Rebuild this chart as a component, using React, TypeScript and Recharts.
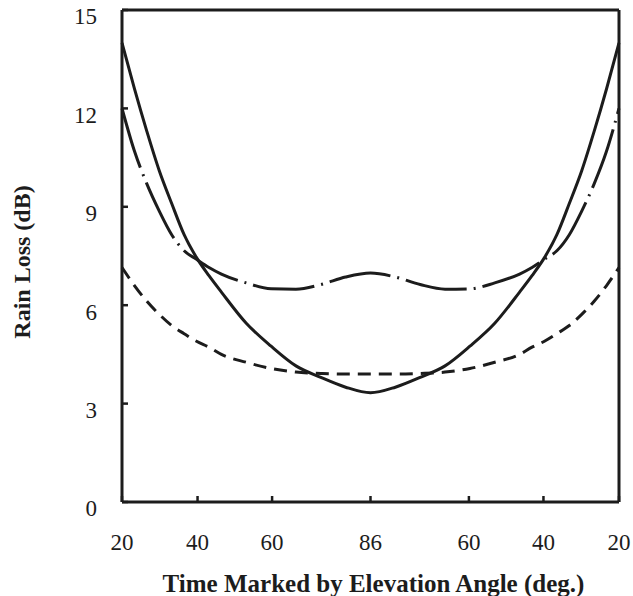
import { LineChart, Line, XAxis, YAxis } from "recharts";

// time along the pass, 0..100, marked by elevation angle
const timePoints = [
  0, 2.5, 5, 7.5, 10, 12.5, 15, 17.5, 20, 25, 30, 35, 40, 45, 50,
  55, 60, 65, 70, 75, 80, 82.5, 85, 87.5, 90, 92.5, 95, 97.5, 100,
];

const solidLoss = [
  14.0, 12.6, 11.3, 10.1, 9.1, 8.15, 7.45, 6.9, 6.4, 5.45, 4.75, 4.15, 3.8, 3.5, 3.33,
  3.5, 3.8, 4.15, 4.75, 5.45, 6.4, 6.9, 7.45, 8.15, 9.1, 10.1, 11.3, 12.6, 14.0,
];

const dashDotLoss = [
  12.0, 10.7, 9.7, 8.87, 8.15, 7.66, 7.4, 7.15, 6.95, 6.68, 6.5, 6.49, 6.63, 6.86, 6.98,
  6.86, 6.63, 6.49, 6.5, 6.68, 6.95, 7.15, 7.4, 7.66, 8.15, 8.87, 9.7, 10.7, 12.0,
];

const dashedLoss = [
  7.15, 6.6, 6.12, 5.72, 5.38, 5.13, 4.9, 4.72, 4.5, 4.26, 4.07, 3.96, 3.92, 3.9, 3.9,
  3.9, 3.92, 3.96, 4.07, 4.26, 4.5, 4.72, 4.9, 5.13, 5.38, 5.72, 6.12, 6.6, 7.15,
];

const xTickPositions = [0, 15.2, 30.2, 50, 69.8, 84.8, 100];
const xTickLabels = ["20", "40", "60", "86", "60", "40", "20"];
const yTicks = [0, 3, 6, 9, 12, 15];

const data = timePoints.map((t, i) => ({
  t,
  solid: solidLoss[i],
  dashDot: dashDotLoss[i],
  dashed: dashedLoss[i],
}));

const INK = "#1c1c1c";
const FONT = "'Liberation Serif', 'Times New Roman', serif";

const XTick = ({ x, y, payload }: any) => {
  const idx = xTickPositions.indexOf(payload.value);
  return (
    <text x={x} y={y} dy="0.34em" textAnchor="middle" fontFamily={FONT} fontSize={23} fill={INK}>
      {idx >= 0 ? xTickLabels[idx] : ""}
    </text>
  );
};

const YTick = ({ x, y, payload }: any) => (
  <text x={x} y={y + 6.5} dy="0.34em" textAnchor="end" fontFamily={FONT} fontSize={23} fill={INK}>
    {payload.value}
  </text>
);

const XTitle = ({ viewBox }: any) => (
  <text
    x={viewBox.x + viewBox.width / 2 + 3}
    y={viewBox.y + 81}
    dy="0.34em"
    textAnchor="middle"
    fontFamily={FONT}
    fontWeight="bold"
    fontSize={25}
    fill={INK}
  >
    Time Marked by Elevation Angle (deg.)
  </text>
);

const YTitle = ({ viewBox }: any) => {
  const cx = 22;
  const cy = viewBox.y + viewBox.height / 2 + 6;
  return (
    <text
      x={cx}
      y={cy}
      dy="0.34em"
      textAnchor="middle"
      transform={`rotate(-90 ${cx} ${cy})`}
      fontFamily={FONT}
      fontWeight="bold"
      fontSize={24}
      fill={INK}
    >
      Rain Loss (dB)
    </text>
  );
};

export default function App() {
  const axisLine = { stroke: INK, strokeWidth: 3 };
  const tickLine = { stroke: INK, strokeWidth: 2.5 };
  return (
    <div style={{ position: "absolute", left: 0, top: 0, width: 633, height: 596, background: "#fff" }}>
      <LineChart width={633} height={596} data={data} margin={{ top: 9, right: 13, bottom: 0, left: 0 }}>
        <XAxis
          dataKey="t"
          type="number"
          domain={[0, 100]}
          ticks={xTickPositions}
          interval={0}
          height={94}
          axisLine={axisLine}
          tickLine={tickLine}
          tickSize={-6}
          tickMargin={46}
          tick={<XTick />}
          label={{ content: <XTitle /> }}
        />
        <XAxis
          xAxisId="top"
          orientation="top"
          dataKey="t"
          type="number"
          domain={[0, 100]}
          ticks={xTickPositions}
          interval={0}
          height={1}
          axisLine={axisLine}
          tickLine={tickLine}
          tickSize={-6}
          tick={false}
        />
        <YAxis
          type="number"
          domain={[0, 15]}
          ticks={yTicks}
          interval={0}
          width={122}
          axisLine={axisLine}
          tickLine={tickLine}
          tickSize={-6}
          tickMargin={31}
          tick={<YTick />}
          label={{ content: <YTitle /> }}
        />
        <YAxis
          yAxisId="right"
          orientation="right"
          type="number"
          domain={[0, 15]}
          ticks={yTicks}
          interval={0}
          width={1}
          axisLine={axisLine}
          tickLine={tickLine}
          tickSize={-6}
          tick={false}
        />
        <Line
          type="monotone"
          dataKey="dashed"
          stroke={INK}
          strokeWidth={3}
          strokeDasharray="13 8"
          dot={false}
          activeDot={false}
          isAnimationActive={false}
        />
        <Line
          type="monotone"
          dataKey="dashDot"
          stroke={INK}
          strokeWidth={3}
          strokeDasharray="62 7 2 7"
          dot={false}
          activeDot={false}
          isAnimationActive={false}
        />
        <Line
          type="monotone"
          dataKey="solid"
          stroke={INK}
          strokeWidth={3}
          dot={false}
          activeDot={false}
          isAnimationActive={false}
        />
      </LineChart>
    </div>
  );
}
